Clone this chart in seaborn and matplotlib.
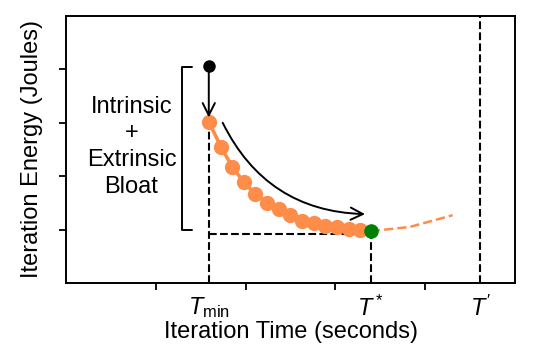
import numpy as np
import matplotlib
matplotlib.use("Agg")
import matplotlib.pyplot as plt
import seaborn as sns

# values (x: 0..10, y: 0..5)
t_min, t_star, t_prime = 3.18, 6.79, 9.22
orange_x = [3.18, 3.45, 3.70, 3.96, 4.22, 4.48, 4.74, 4.99, 5.26, 5.52, 5.77, 6.03, 6.30, 6.55]
orange_y = [3.02, 2.55, 2.18, 1.89, 1.66, 1.50, 1.38, 1.27, 1.17, 1.12, 1.07, 1.04, 1.01, 1.00]
tail_x = [6.79, 6.99, 7.66, 8.18, 8.61]
tail_y = [0.98, 0.99, 1.05, 1.17, 1.27]
start_x, start_y = [3.18], [4.06]
opt_x, opt_y = [6.79], [0.98]
floor_y = 0.92
tick_labels = [r"$T_{\mathrm{min}}$", r"$T^*$", r"$T'$"]

orange = "#fd8d49"

sns.set_style("ticks")
plt.rcParams["font.family"] = ["Liberation Sans", "DejaVu Sans"]
plt.rcParams["mathtext.fontset"] = "custom"
plt.rcParams["mathtext.rm"] = "Liberation Sans"
plt.rcParams["mathtext.it"] = "Liberation Sans:italic"
plt.rcParams["font.size"] = 17
for k in ["text.color", "axes.labelcolor", "xtick.color", "ytick.color", "axes.edgecolor"]:
    plt.rcParams[k] = "black"

fig = plt.figure(figsize=(5.33, 3.63), dpi=100)
ax = fig.add_axes([66 / 533, 1 - 283 / 363, 449 / 533, 267 / 363])

# dashed guides
ax.plot([t_min, t_min], [0, orange_y[0]], "k--", lw=1.5)
ax.plot([t_star, t_star], [0, opt_y[0]], "k--", lw=1.5)
ax.plot([t_min, t_star], [floor_y, floor_y], "k--", lw=1.5)
ax.axvline(t_prime, color="k", ls="--", lw=1.5)

# curves
sns.lineplot(x=tail_x, y=tail_y, ax=ax, color=orange, lw=1.8, ls="--", sort=False)
sns.lineplot(x=orange_x + opt_x, y=orange_y + opt_y, ax=ax, color=orange, lw=2.6, sort=False)
ax.plot(orange_x, orange_y, "o", color=orange, ms=11, mew=0)
ax.plot(start_x, start_y, "o", color="black", ms=9, mew=0)
ax.plot(opt_x, opt_y, "o", color="green", ms=10.5, mew=0, zorder=5)

# arrows
ax.annotate("", xy=(t_min, orange_y[0] + 0.08), xytext=(start_x[0], start_y[0]),
            arrowprops=dict(arrowstyle="->", color="k", lw=1.4, mutation_scale=22,
                            shrinkA=0, shrinkB=0))
ax.annotate("", xy=(6.66, 1.29), xytext=(3.49, 3.0),
            arrowprops=dict(arrowstyle="->", color="k", lw=1.4, mutation_scale=22,
                            shrinkA=0, shrinkB=0, connectionstyle="arc3,rad=0.3"))

# bracket + label
ax.plot([2.81, 2.58, 2.58, 2.81], [4.05, 4.05, 0.99, 0.99], color="k", lw=1.4)
ax.text(1.46, 2.55, "Intrinsic\n+\nExtrinsic\nBloat", ha="center", va="center",
        linespacing=1.28)

ax.set_xlim(0, 10)
ax.set_ylim(0, 5)
ax.set_xticks([2, 4, 6, 8])
ax.set_xticklabels([])
ax.set_yticks([1, 2, 3, 4])
ax.set_yticklabels([])
ax.set_xticks([t_min, t_star, t_prime], tick_labels, minor=True)
ax.tick_params(axis="x", which="minor", length=0, pad=9)
ax.tick_params(which="major", length=5, width=1.3, color="k")
for s in ax.spines.values():
    s.set_linewidth(1.4)
    s.set_color("k")
ax.set_xlabel("Iteration Time (seconds)", labelpad=0)
ax.set_ylabel("Iteration Energy (Joules)", labelpad=8)

fig.savefig("out.png", dpi=100)
